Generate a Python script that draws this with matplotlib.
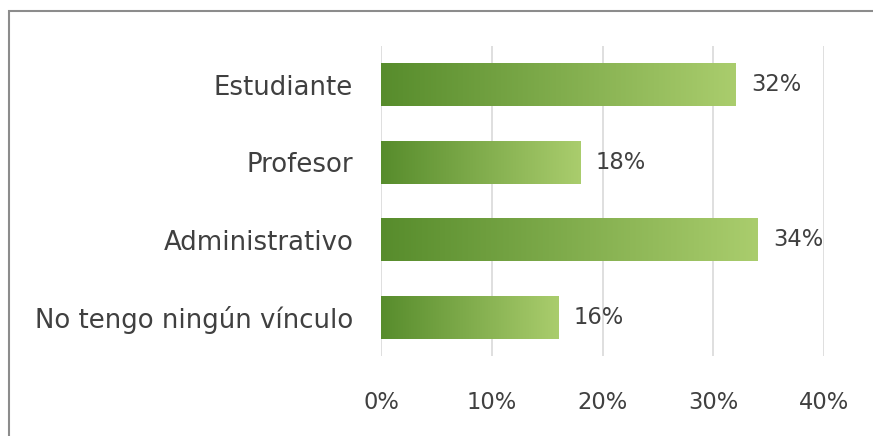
import numpy as np
import matplotlib
matplotlib.use("Agg")
import matplotlib.pyplot as plt
from matplotlib.colors import LinearSegmentedColormap
from matplotlib.patches import Rectangle

categories = ["Estudiante", "Profesor", "Administrativo", "No tengo ningún vínculo"]
values = [32, 18, 34, 16]
xticks = [0, 10, 20, 30, 40]
tick_labels = ["0%", "10%", "20%", "30%", "40%"]

plt.rcParams['font.family'] = ['DejaVu Sans']
text_color = "#404040"
fs_cat = 18.7
fs_num = 16.3

fig = plt.figure(figsize=(8.73, 4.36), dpi=100)
ax = fig.add_axes([381/873, (436-356)/436, (824-381)/873, (356-46)/436])

cmap = LinearSegmentedColormap.from_list("g", ["#578c2c", "#aacd6d"])
grad = np.linspace(0, 1, 256).reshape(1, -1)
bar_h = 0.56
n = len(categories)
ys = np.arange(n)[::-1]

ax.set_xlim(0, 40)
ax.set_ylim(-0.5, n - 0.5)
for x in xticks:
    ax.axvline(x, color="#d9d9d9", lw=1.2, zorder=0)

for y, v, c in zip(ys, values, categories):
    rect = Rectangle((0, y - bar_h/2), v, bar_h, facecolor="none", edgecolor="none")
    ax.add_patch(rect)
    im = ax.imshow(grad, cmap=cmap, aspect="auto",
                   extent=(0, v, y - bar_h/2, y + bar_h/2), zorder=2)
    im.set_clip_path(rect)
    ax.text(v + 1.4, y, f"{v}%", va="center", ha="left", fontsize=fs_num,
            color=text_color)

ax.set_xlim(0, 40)
ax.set_ylim(-0.5, n - 0.5)
ax.set_yticks(ys)
ax.set_yticklabels(categories, fontsize=fs_cat, color=text_color)
ax.set_xticks(xticks)
ax.set_xticklabels(tick_labels, fontsize=fs_num, color=text_color)
ax.tick_params(axis="both", length=0)
ax.tick_params(axis="y", pad=20)
ax.tick_params(axis="x", pad=25)
for s in ax.spines.values():
    s.set_visible(False)

border = Rectangle((9/873, -0.2), 1.2, (436-11)/436 + 0.2, transform=fig.transFigure,
                   facecolor="none", edgecolor="#8c8c8c", lw=1.5, clip_on=False)
fig.patches.append(border)

fig.savefig("out.png", dpi=100)
